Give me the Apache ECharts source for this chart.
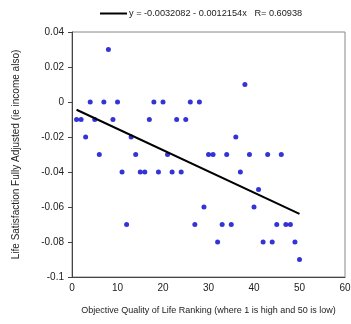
<!DOCTYPE html>
<html>
<head>
<meta charset="utf-8">
<script src="https://cdn.jsdelivr.net/npm/echarts@6/dist/echarts.min.js"></script>
<style>
	html, body { margin: 0; padding: 0; background: #fff; }
	#chart { width: 351px; height: 324px; }
</style>
</head>
<body>
<div id="chart"></div>
<script>
// ranking 1..50 and the satisfaction value
const rankings = [1, 2, 3, 4, 5, 6, 7, 8, 9, 10, 11, 12, 13, 14, 15, 16, 17, 18, 19, 20, 21, 22, 23, 24, 25, 26, 27, 28, 29, 30, 31, 32, 33, 34, 35, 36, 37, 38, 39, 40, 41, 42, 43, 44, 45, 46, 47, 48, 49, 50]
const satisfaction = [
	-0.01, -0.01, -0.02, 0, -0.01, -0.03, 0, 0.03, -0.01, 0,
	-0.04, -0.07, -0.02, -0.03, -0.04, -0.04, -0.01, 0, -0.04, 0,
	-0.03, -0.04, -0.01, -0.04, -0.01, 0, -0.07, 0, -0.06, -0.03,
	-0.03, -0.08, -0.07, -0.03, -0.07, -0.02, -0.04, 0.01, -0.03, -0.06,
	-0.05, -0.08, -0.03, -0.08, -0.07, -0.03, -0.07, -0.07, -0.08, -0.09
]
// fit as printed in the legend
const fitIntercept = -0.0032082
const fitSlope = -0.0012154
const fitR = 0.60938
const fitRange = [1, 50]

const font = "Liberation Sans, Arial, sans-serif"
const fitLabel = `y = ${fitIntercept} - ${Math.abs(fitSlope)}x   R= ${fitR}`

const chart = echarts.init(document.querySelector("#chart"), null, { renderer: "canvas" })
chart.setOption({
	animation: false,
	textStyle: { fontFamily: font },
	legend: {
		data: [{ name: fitLabel, icon: "rect" }],
		top: 4,
		left: 95,
		itemWidth: 27,
		itemHeight: 2,
		itemGap: 4,
		textStyle: { fontSize: 9.2, color: "#222", fontFamily: font, padding: [0, 0, 0, -3] }
	},
	grid: {
		left: 72, right: 6, top: 32, bottom: 47,
		outerBoundsMode: "none",
		containLabel: false,
		show: true, borderColor: "#888", borderWidth: 1, backgroundColor: "#fff"
	},
	xAxis: {
		type: "value",
		min: 0, max: 60, interval: 10,
		name: "Objective Quality of Life Ranking (where 1 is high and 50 is low)",
		nameLocation: "middle",
		nameGap: 29,
		nameTextStyle: { fontSize: 9, color: "#222", fontFamily: font },
		axisLine: { onZero: false, lineStyle: { color: "#444" } },
		axisTick: { show: false },
		axisLabel: { fontSize: 10, color: "#222", margin: 6, fontFamily: font },
		splitLine: { show: false }
	},
	yAxis: {
		type: "value",
		min: -0.1, max: 0.04, interval: 0.02,
		name: "Life Satisfaction Fully Adjusted (ie income also)",
		nameLocation: "middle",
		nameGap: 51,
		nameTextStyle: { fontSize: 10, color: "#222", fontFamily: font },
		axisLine: { show: true, onZero: false, lineStyle: { color: "#444" } },
		axisTick: { show: true, length: 4, lineStyle: { color: "#444" } },
		axisLabel: {
			fontSize: 10, color: "#222", margin: 8, fontFamily: font,
			formatter: v => Number(v.toFixed(2)).toString()
		},
		splitLine: { show: false }
	},
	series: [
		{
			name: "points",
			type: "scatter",
			symbolSize: 5,
			itemStyle: { color: "#0000cc" },
			data: rankings.map((r, i) => [r, satisfaction[i]])
		},
		{
			name: fitLabel,
			type: "line",
			symbol: "none",
			lineStyle: { color: "#000", width: 2 },
			itemStyle: { color: "#000" },
			data: fitRange.map(x => [x, fitIntercept + fitSlope * x])
		}
	]
})
</script>
</body>
</html>
